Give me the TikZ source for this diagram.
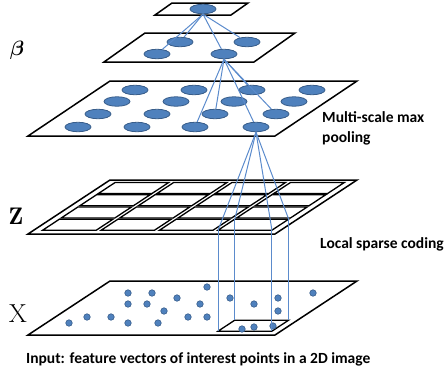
\documentclass[tikz,border=0pt]{standalone}
\usepackage{fontspec}
\usepackage{bm}
\usetikzlibrary{shapes.geometric}
\newfontfamily\calfont{Carlito}
\definecolor{dotblue}{RGB}{79,129,189}
\definecolor{dotedge}{RGB}{56,93,138}
\definecolor{linkblue}{RGB}{91,139,204}
\begin{document}
\begin{tikzpicture}[x=1pt, y=-1pt,
  plane/.style={draw=black, line width=1.5pt, line join=miter},
  cell/.style={draw=black, line width=1.3pt},
  pool/.style={shape=ellipse, fill=dotblue, draw=dotedge, line width=0.8pt, minimum width=26pt, minimum height=9.5pt, inner sep=0pt},
  ipoint/.style={shape=circle, fill=dotblue, draw=dotedge, line width=0.6pt, minimum size=6.5pt, inner sep=0pt},
  link/.style={-, draw=linkblue, line width=1pt},
  caption/.style={font=\calfont\bfseries\fontsize{15.5}{20}\selectfont, inner sep=0pt}]
\useasboundingbox (0,0) rectangle (447,376);
% planes
\draw[plane] (172,3) -- (248,3) -- (231,15) -- (155,15) -- cycle;
\draw[plane] (145,33) -- (295,33) -- (254,62) -- (104,62) -- cycle;
\draw[plane] (110,81) -- (357,81) -- (275,136) -- (28,136) -- cycle;
\draw[plane] (110,180) -- (357,180) -- (275,234) -- (28,234) -- cycle;
\draw[plane] (110,281) -- (357,281) -- (275,335) -- (28,335) -- cycle;
% codes of Z
\begin{scope}[shift={(110,180)}, x={(247pt,0pt)}, y={(-82pt,-54pt)}]
\draw[cell] (0.036,0.048) -- (0.253,0.048) -- (0.253,0.252) -- (0.036,0.252) -- cycle;
\draw[cell] (0.273,0.048) -- (0.489,0.048) -- (0.489,0.252) -- (0.273,0.252) -- cycle;
\draw[cell] (0.509,0.048) -- (0.726,0.048) -- (0.726,0.252) -- (0.509,0.252) -- cycle;
\draw[cell] (0.746,0.048) -- (0.964,0.048) -- (0.964,0.252) -- (0.746,0.252) -- cycle;
\draw[cell] (0.036,0.274) -- (0.253,0.274) -- (0.253,0.478) -- (0.036,0.478) -- cycle;
\draw[cell] (0.273,0.274) -- (0.489,0.274) -- (0.489,0.478) -- (0.273,0.478) -- cycle;
\draw[cell] (0.509,0.274) -- (0.726,0.274) -- (0.726,0.478) -- (0.509,0.478) -- cycle;
\draw[cell] (0.746,0.274) -- (0.964,0.274) -- (0.964,0.478) -- (0.746,0.478) -- cycle;
\draw[cell] (0.036,0.500) -- (0.253,0.500) -- (0.253,0.703) -- (0.036,0.703) -- cycle;
\draw[cell] (0.273,0.500) -- (0.489,0.500) -- (0.489,0.703) -- (0.273,0.703) -- cycle;
\draw[cell] (0.509,0.500) -- (0.726,0.500) -- (0.726,0.703) -- (0.509,0.703) -- cycle;
\draw[cell] (0.746,0.500) -- (0.964,0.500) -- (0.964,0.703) -- (0.746,0.703) -- cycle;
\draw[cell] (0.036,0.725) -- (0.253,0.725) -- (0.253,0.929) -- (0.036,0.929) -- cycle;
\draw[cell] (0.273,0.725) -- (0.489,0.725) -- (0.489,0.929) -- (0.273,0.929) -- cycle;
\draw[cell] (0.509,0.725) -- (0.726,0.725) -- (0.726,0.929) -- (0.509,0.929) -- cycle;
\draw[cell] (0.746,0.725) -- (0.964,0.725) -- (0.964,0.929) -- (0.746,0.929) -- cycle;
\coordinate (zA) at (0.746,0.929);
\coordinate (zB) at (0.964,0.929);
\coordinate (zC) at (0.964,0.725);
\coordinate (zD) at (0.746,0.725);
\end{scope}
% local region of X
\begin{scope}[shift={(110,281)}, x={(247pt,0pt)}, y={(-82pt,-54pt)}]
\coordinate (xA) at (0.746,0.929);
\coordinate (xB) at (0.964,0.929);
\coordinate (xC) at (0.964,0.725);
\coordinate (xD) at (0.746,0.725);
\end{scope}
\draw[cell] (xA) -- (xB) -- (xC) -- (xD) -- cycle;
% pooling nodes
\node[pool] (t) at (203,9) {};
\node[pool] (l1a) at (180,42) {};
\node[pool] (l1b) at (247,42) {};
\node[pool] (l1c) at (157,54) {};
\node[pool] (l1d) at (224,54) {};
\node[pool] (p11) at (135,90) {};
\node[pool] (p12) at (194,90) {};
\node[pool] (p13) at (252,90) {};
\node[pool] (p14) at (312,90) {};
\node[pool] (p21) at (117,101.5) {};
\node[pool] (p22) at (176,101.5) {};
\node[pool] (p23) at (234,101.5) {};
\node[pool] (p24) at (294,101.5) {};
\node[pool] (p31) at (98,114) {};
\node[pool] (p32) at (157,114) {};
\node[pool] (p33) at (215,114) {};
\node[pool] (p34) at (276,114) {};
\node[pool] (p41) at (78,127) {};
\node[pool] (p42) at (137,127) {};
\node[pool] (p43) at (195,127) {};
\node[pool] (p44) at (256,127) {};
% interest points
\node[ipoint] (d1) at (69,323) {};
\node[ipoint] (d2) at (87,317) {};
\node[ipoint] (d3) at (111,317) {};
\node[ipoint] (d4) at (128,323) {};
\node[ipoint] (d5) at (128,304) {};
\node[ipoint] (d6) at (128,293) {};
\node[ipoint] (d7) at (152,293) {};
\node[ipoint] (d8) at (147,304) {};
\node[ipoint] (d9) at (164,311) {};
\node[ipoint] (d10) at (158,323) {};
\node[ipoint] (d11) at (177,298) {};
\node[ipoint] (d12) at (188,317) {};
\node[ipoint] (d13) at (200,304) {};
\node[ipoint] (d14) at (207,317) {};
\node[ipoint] (d15) at (207,287) {};
\node[ipoint] (d16) at (230,298) {};
\node[ipoint] (d17) at (254,304) {};
\node[ipoint] (d18) at (278,298) {};
\node[ipoint] (d19) at (278,311) {};
\node[ipoint] (d20) at (313,293) {};
\node[ipoint] (d21) at (242,329) {};
\node[ipoint] (d22) at (254,327) {};
\node[ipoint] (d23) at (273,326) {};
% links
\path[link] (t.south) edge (l1a);
\path[link] (t.south) edge (l1b);
\path[link] (t.south) edge (l1c);
\path[link] (t.south) edge (l1d);
\path[link] (l1d.south) edge (p13);
\path[link] (l1d.south) edge (p33);
\path[link] (l1d.south) edge (p34);
\path[link] (l1d.south) edge (p43);
\path[link] (l1d.south) edge (p44);
\path[link] (p44.south) edge (zA);
\path[link] (p44.south) edge (zB);
\path[link] (p44.south) edge (zC);
\path[link] (p44.south) edge (zD);
\path[link] (zA) edge (xA);
\path[link] (zB) edge (xB);
\path[link] (zC) edge (xC);
\path[link] (zD) edge (xD);
% labels
\node (beta) at (17,50) {\fontsize{22}{22}\selectfont$\bm{\beta}$};
\node (zlab) at (16,216.5) {\fontsize{24}{24}\selectfont$\mathbf{Z}$};
\node (xlab) at (18,314) {\fontsize{26}{26}\selectfont$\mathrm{X}$};
\node[caption, align=left, anchor=north west] (pooling) at (322,111) {Multi-scale max\\pooling};
\node[caption, anchor=base west] (coding) at (320,248) {Local sparse coding};
\node[caption, anchor=base west] (input) at (26,363) {Input: feature vectors of interest points in a 2D image};
\end{tikzpicture}
\end{document}
